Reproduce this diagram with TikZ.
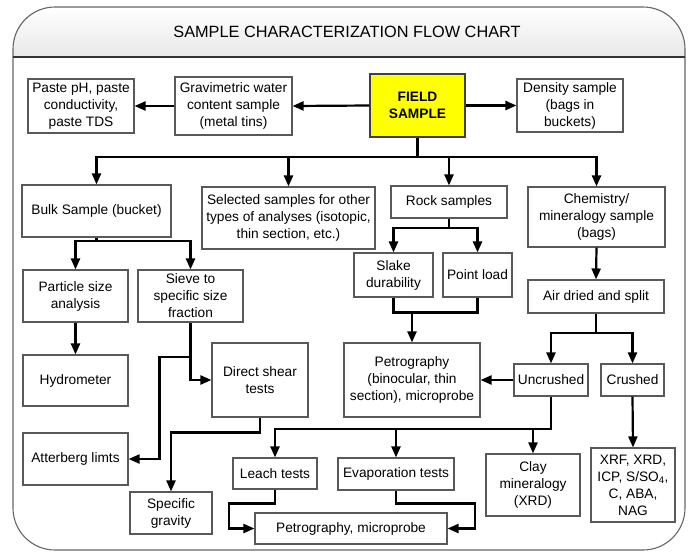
\documentclass[tikz,border=0pt]{standalone}
\usepackage{fontspec}
\setmainfont{Liberation Sans}
\usetikzlibrary{arrows.meta}
\definecolor{fieldyellow}{RGB}{255,255,0}
\tikzset{
  box/.style={draw=black!65, line width=1.1pt, fill=white, align=center, inner sep=0pt,
    font=\fontsize{13.7}{17}\selectfont},
  arr/.style={line width=2.2pt, -{Triangle[length=11pt,width=9pt]}},
  ln/.style={line width=2.2pt},
}

\begin{document}
\begin{tikzpicture}[x=1pt,y=-1pt]
  \useasboundingbox (0,0) rectangle (688,552);
  %%%%% FRAME %%%%%
  \begin{scope}
    \clip[rounded corners=42] (13,7) rectangle (685,550);
    \shade[top color=white, bottom color=black!9] (13,7) rectangle (685,57);
  \end{scope}
  \draw[black!60, line width=1.1pt, rounded corners=42] (13,7) rectangle (685,550);
  \draw[black!80, line width=1.1pt] (13,57) -- (685,57);
  \node[font=\fontsize{16.3}{18}\selectfont] (title) at (347,32) {SAMPLE CHARACTERIZATION FLOW CHART};

  %%%%% BOXES %%%%%
  \node[box, minimum width=106pt, minimum height=54pt] (paste) at (81,106) {Paste pH, paste\\conductivity,\\paste TDS};
  \node[box, minimum width=117pt, minimum height=58pt] (grav) at (233.5,106) {Gravimetric water\\content sample\\(metal tins)};
  \node[box, fill=fieldyellow, draw=black!75, minimum width=95pt, minimum height=63pt, font=\fontsize{13.7}{17}\selectfont\bfseries] (field) at (417.5,105.5) {FIELD\\SAMPLE};
  \node[box, minimum width=106pt, minimum height=53pt] (density) at (570,105.5) {Density sample\\(bags in\\buckets)};

  \node[box, minimum width=149pt, minimum height=52pt] (bulk) at (96.5,211) {Bulk Sample (bucket)};
  \node[box, minimum width=173pt, minimum height=62pt] (selected) at (288.5,218) {Selected samples for other\\types of analyses (isotopic,\\thin section, etc.)};
  \node[box, minimum width=116pt, minimum height=32pt] (rock) at (449,202) {Rock samples};
  \node[box, minimum width=137pt, minimum height=60pt] (chem) at (596.5,217) {Chemistry/\\mineralogy sample\\(bags)};

  \node[box, minimum width=105pt, minimum height=52pt] (particle) at (75.5,296) {Particle size\\analysis};
  \node[box, minimum width=105pt, minimum height=52pt] (sieve) at (190.5,296) {Sieve to\\specific size\\fraction};
  \node[box, minimum width=79pt, minimum height=44pt] (slake) at (393.5,275) {Slake\\durability};
  \node[box, minimum width=69pt, minimum height=44pt] (point) at (477.5,275) {Point load};
  \node[box, minimum width=136pt, minimum height=33pt] (air) at (596,296.5) {Air dried and split};

  \node[box, minimum width=105pt, minimum height=51pt] (hydro) at (75.5,380.5) {Hydrometer};
  \node[box, minimum width=96pt, minimum height=74pt] (direct) at (260,380) {Direct shear\\tests};
  \node[box, minimum width=136pt, minimum height=74pt] (petro) at (412,380) {Petrography\\(binocular, thin\\section), microprobe};
  \node[box, minimum width=74pt, minimum height=32pt] (uncrushed) at (551,380) {Uncrushed};
  \node[box, minimum width=63pt, minimum height=32pt] (crushed) at (632.5,380) {Crushed};

  \node[box, minimum width=105pt, minimum height=52pt] (atter) at (75.5,459) {Atterberg limts};
  \node[box, minimum width=82pt, minimum height=42pt] (specific) at (171,513) {Specific\\gravity};
  \node[box, minimum width=84pt, minimum height=31pt] (leach) at (275,473.5) {Leach tests};
  \node[box, minimum width=116pt, minimum height=32pt] (evap) at (396,474) {Evaporation tests};
  \node[box, minimum width=94pt, minimum height=62pt] (clay) at (533,485) {Clay\\mineralogy\\(XRD)};
  \node[box, minimum width=84pt, minimum height=74pt] (xrf) at (633,485) {XRF, XRD,\\ICP, S/SO\textsubscript{4},\\C, ABA,\\NAG};
  \node[box, minimum width=192pt, minimum height=31pt] (petromicro) at (351,528.5) {Petrography, microprobe};

  %%%%% CONNECTORS %%%%%
  \draw[arr] (field.west) -- (grav.east);
  \draw[arr] (grav.west) -- (paste.east);
  \draw[arr] (field.east) -- (density.west);

  \coordinate (fbar) at (field.south |- 0,157);
  \draw[ln] (field.south) -- (fbar);
  \draw[arr] (fbar) -| (bulk.north);
  \draw[arr] (fbar) -| (selected.north);
  \draw[arr] (fbar) -| (rock.north);
  \draw[arr] (fbar) -| (chem.north);

  \coordinate (bbar) at (bulk.south |- 0,241);
  \draw[ln] (bulk.south) -- (bbar);
  \draw[arr] (bbar) -| (particle.north);
  \draw[arr] (bbar) -| (sieve.north);
  \draw[arr] (particle.south) -- (hydro.north);

  \draw[arr] (sieve.south) |- (direct.west);
  \coordinate (sbr) at (sieve.south |- 0,357);
  \draw[arr] (sbr) -- ++(-31,0) |- (atter.east);
  \draw[arr] (direct.south) -- ++(0,15) -| (specific.north);

  \coordinate (rbar) at (rock.south |- 0,228);
  \draw[ln] (rock.south) -- (rbar);
  \draw[arr] (rbar) -| (slake.north);
  \draw[arr] (rbar) -| (point.north);
  \draw[ln] (slake.south) -- ++(0,15) -| (point.south);
  \coordinate (sjoin) at (petro.north |- 0,312);
  \draw[arr] (sjoin) -- (petro.north);

  \draw[arr] (chem.south) -- (air.north);
  \coordinate (abar) at (air.south |- 0,333);
  \draw[ln] (air.south) -- (abar);
  \draw[arr] (abar) -| (uncrushed.north);
  \draw[arr] (abar) -| (crushed.north);
  \draw[arr] (uncrushed.west) -- (petro.east);
  \draw[arr] (crushed.south) -- (xrf.north);

  \coordinate (ubar) at (uncrushed.south |- 0,429);
  \draw[arr] (uncrushed.south) -- (ubar) -| (leach.north);
  \draw[arr] (ubar -| evap.north) -- (evap.north);
  \draw[arr] (ubar -| clay.north) -- (clay.north);

  \draw[arr] (leach.south) -- ++(0,14) -- ++(-46,0) |- (petromicro.west);
  \draw[arr] (evap.south) -- ++(0,13) -- ++(79,0) |- (petromicro.east);
\end{tikzpicture}
\end{document}
